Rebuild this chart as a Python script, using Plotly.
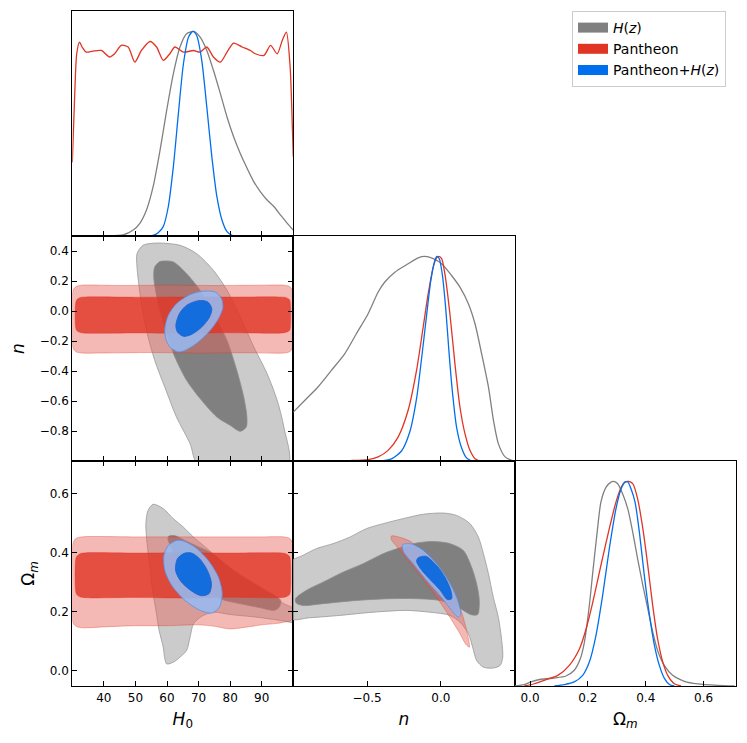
import plotly.graph_objects as go

# axis limits / ticks of the triangle plot
H0_RANGE = [30, 100]
N_RANGE = [-1.0, 0.5]
OM_RANGE = [-0.053, 0.712]
P_RANGE = [0, 1.1]

H0_TICKS = [40, 50, 60, 70, 80, 90]
N_TICKS_X = [-0.5, 0.0]
N_TICKS_Y = [0.4, 0.2, 0.0, -0.2, -0.4, -0.6, -0.8]
OM_TICKS = [0.0, 0.2, 0.4, 0.6]

LABELS = ['<i>H</i>(<i>z</i>)', 'Pantheon', 'Pantheon+<i>H</i>(<i>z</i>)']

# ---- 1D marginals (peak normalised to 1) ----
h0_hz_x = [41.8, 46.1, 49.3, 51.4, 53.5, 55.6, 57.8, 59.9, 62.0, 64.1, 66.2, 68.4, 70.5, 72.6, 74.7,
           76.9, 79.0, 81.1, 83.2, 85.4, 87.5, 89.6, 91.7, 93.9, 96.0, 98.1, 100.0]
h0_hz_p = [0.0, 0.005, 0.029, 0.062, 0.127, 0.241, 0.420, 0.615, 0.793, 0.924, 0.989, 1.0, 0.972, 0.907,
           0.810, 0.696, 0.582, 0.485, 0.403, 0.330, 0.265, 0.216, 0.176, 0.143, 0.102, 0.062, 0.029]
h0_pan_x = [30.0, 30.7, 31.4, 32.3, 33.1, 34.4, 36.5, 39.2, 41.8, 43.4, 45.5, 47.7, 49.8, 51.9, 54.6,
            56.7, 58.8, 60.9, 62.5, 65.2, 68.4, 70.5, 72.6, 74.7, 76.9, 79.0, 81.1, 83.8, 86.4, 88.0,
            90.7, 92.8, 94.9, 96.5, 97.8, 99.0, 99.7, 100.0]
h0_pan_p = [0.36, 0.663, 0.891, 0.948, 0.924, 0.899, 0.904, 0.907, 0.875, 0.891, 0.932, 0.924, 0.850,
            0.907, 0.951, 0.924, 0.859, 0.891, 0.924, 0.899, 0.907, 0.899, 0.924, 0.875, 0.850, 0.899,
            0.943, 0.924, 0.907, 0.891, 0.883, 0.932, 0.891, 0.956, 0.997, 0.826, 0.533, 0.387]
h0_both_x = [50.0, 55.6, 57.2, 58.8, 60.4, 62.0, 63.6, 65.2, 66.8, 68.2, 69.4, 71.0, 72.6, 74.2, 75.8,
             77.4, 79.0, 80.6, 86.0]
h0_both_p = [0.0, 0.003, 0.016, 0.046, 0.143, 0.338, 0.598, 0.842, 0.972, 1.0, 0.980, 0.859, 0.631,
             0.387, 0.192, 0.078, 0.021, 0.003, 0.0]

n_hz_x = [-1.0, -0.923, -0.833, -0.742, -0.652, -0.573, -0.493, -0.425, -0.380, -0.312, -0.222, -0.154,
          -0.109, -0.052, 0.005, 0.072, 0.129, 0.186, 0.231, 0.276, 0.322, 0.356, 0.389, 0.435, 0.480, 0.5]
n_hz_p = [0.239, 0.296, 0.362, 0.443, 0.524, 0.622, 0.720, 0.826, 0.875, 0.923, 0.964, 0.993, 1.0,
          0.989, 0.964, 0.907, 0.850, 0.769, 0.671, 0.524, 0.362, 0.199, 0.085, 0.020, 0.003, 0.0]
n_pan_x = [-0.607, -0.493, -0.425, -0.358, -0.290, -0.222, -0.165, -0.120, -0.086, -0.052, -0.029,
           -0.014, 0.005, 0.027, 0.061, 0.095, 0.129, 0.163, 0.197, 0.231, 0.265]
n_pan_p = [0.003, 0.007, 0.020, 0.052, 0.117, 0.248, 0.443, 0.655, 0.818, 0.948, 0.993, 1.0, 0.989,
           0.915, 0.720, 0.476, 0.264, 0.134, 0.052, 0.011, 0.0]
n_both_x = [-0.403, -0.335, -0.267, -0.211, -0.165, -0.131, -0.097, -0.068, -0.041, -0.027, -0.011,
            0.009, 0.032, 0.054, 0.077, 0.106, 0.140, 0.174, 0.208]
n_both_p = [0.0, 0.010, 0.049, 0.142, 0.305, 0.500, 0.712, 0.883, 0.980, 1.0, 0.989, 0.915, 0.752,
            0.541, 0.345, 0.166, 0.065, 0.015, 0.0]

om_hz_x = [-0.053, -0.020, 0.003, 0.038, 0.084, 0.124, 0.153, 0.174, 0.188, 0.205, 0.217, 0.232, 0.245,
           0.263, 0.280, 0.289, 0.303, 0.320, 0.338, 0.355, 0.372, 0.390, 0.407, 0.424, 0.441, 0.464,
           0.493, 0.534, 0.580, 0.649, 0.707]
om_hz_p = [0.0, 0.007, 0.020, 0.033, 0.039, 0.049, 0.077, 0.134, 0.215, 0.394, 0.557, 0.752, 0.899,
           0.972, 0.997, 1.0, 0.989, 0.940, 0.866, 0.752, 0.622, 0.492, 0.378, 0.264, 0.174, 0.101,
           0.052, 0.023, 0.010, 0.003, 0.0]
om_pan_x = [-0.020, 0.015, 0.049, 0.096, 0.136, 0.171, 0.194, 0.217, 0.245, 0.274, 0.297, 0.315, 0.328,
            0.340, 0.355, 0.372, 0.390, 0.407, 0.424, 0.441, 0.459, 0.476, 0.499, 0.522]
om_pan_p = [0.0, 0.011, 0.028, 0.052, 0.101, 0.182, 0.280, 0.410, 0.590, 0.769, 0.899, 0.972, 0.997,
            1.0, 0.989, 0.915, 0.769, 0.590, 0.394, 0.231, 0.117, 0.052, 0.011, 0.0]
om_both_x = [0.084, 0.119, 0.153, 0.182, 0.205, 0.228, 0.251, 0.274, 0.297, 0.315, 0.328, 0.338, 0.349,
             0.363, 0.378, 0.395, 0.413, 0.430, 0.447, 0.465, 0.482, 0.499]
om_both_p = [0.0, 0.007, 0.020, 0.052, 0.117, 0.248, 0.443, 0.671, 0.866, 0.964, 0.997, 0.997, 0.964,
             0.899, 0.752, 0.541, 0.345, 0.199, 0.101, 0.036, 0.007, 0.0]

# ---- 2D contours (68% / 95%), outlines ----
# (H0, n)
hz_h0n_95 = [(56.7, 0.453), (64.1, 0.438), (69.4, 0.382), (74.7, 0.271), (79.0, 0.138), (83.2, -0.04),
             (87.5, -0.24), (91.7, -0.418), (94.9, -0.596), (97.0, -0.773), (98.3, -1.03), (70.0, -1.03),
             (67.3, -0.884), (63.0, -0.707), (59.3, -0.507), (56.1, -0.329), (53.5, -0.129),
             (51.6, 0.093), (50.5, 0.293), (50.5, 0.382), (52.4, 0.438)]
hz_h0n_68 = [(58.8, 0.333), (62.0, 0.327), (66.2, 0.249), (70.5, 0.138), (74.7, -0.018), (79.0, -0.196),
             (82.1, -0.396), (84.3, -0.573), (85.3, -0.707), (85.1, -0.773), (83.2, -0.802),
             (80.0, -0.762), (75.8, -0.707), (70.5, -0.584), (66.2, -0.462), (62.5, -0.307),
             (59.9, -0.151), (57.2, 0.049), (55.8, 0.227), (56.1, 0.293), (57.5, 0.327)]
pan_h0n_95 = [(30.0, 0.10), (30.3, 0.14), (31.2, 0.163), (33, 0.172), (45, 0.170), (60, 0.172),
              (75, 0.170), (90, 0.172), (97, 0.172), (98.8, 0.163), (99.7, 0.14), (100, 0.10),
              (100, -0.21), (99.7, -0.25), (98.8, -0.272), (97, -0.28), (85, -0.278), (70, -0.28),
              (55, -0.277), (40, -0.28), (33, -0.28), (31.2, -0.272), (30.3, -0.25), (30, -0.21)]
pan_h0n_68 = [(31.0, 0.04), (31.4, 0.075), (32.5, 0.09), (34.5, 0.094), (50, 0.092), (65, 0.094),
              (80, 0.093), (95, 0.094), (97.6, 0.09), (98.8, 0.075), (99.1, 0.04), (99.1, -0.10),
              (98.8, -0.13), (97.6, -0.143), (95, -0.148), (80, -0.145), (65, -0.148), (50, -0.146),
              (34.5, -0.148), (32.5, -0.143), (31.4, -0.13), (31.0, -0.10)]
both_h0n_95 = [(59.3, -0.118), (60.4, -0.029), (63.0, 0.049), (66.8, 0.104), (71.0, 0.131),
               (75.2, 0.127), (77.3, 0.082), (77.7, 0.022), (76.3, -0.051), (73.7, -0.129),
               (69.9, -0.207), (66.2, -0.258), (63.6, -0.273), (60.9, -0.24), (59.6, -0.184)]
both_h0n_68 = [(62.8, -0.096), (63.9, -0.018), (66.2, 0.038), (69.9, 0.069), (72.8, 0.062), (74.2, 0.016),
               (73.4, -0.044), (71.0, -0.107), (67.8, -0.156), (65.2, -0.169), (63.3, -0.140)]

# (H0, Omega_m)
hz_h0om_95 = [(55.6, 0.565), (58.8, 0.550), (62.0, 0.516), (65.2, 0.487), (68.4, 0.453), (71.5, 0.425),
              (75.8, 0.385), (80.1, 0.346), (84.3, 0.312), (88.5, 0.283), (92.8, 0.255), (97.0, 0.227),
              (101.0, 0.204), (101.0, 0.164), (96.0, 0.170), (88.5, 0.181), (80.1, 0.190),
              (74.7, 0.198), (71.0, 0.184), (68.4, 0.159), (67.3, 0.113), (66.2, 0.068), (64.1, 0.045),
              (62.0, 0.028), (59.9, 0.022), (59.3, 0.040), (58.8, 0.079), (57.5, 0.136), (56.5, 0.204),
              (55.4, 0.272), (54.6, 0.351), (53.7, 0.431), (53.3, 0.499), (54.0, 0.544)]
hz_h0om_68 = [(60.5, 0.456), (62.5, 0.458), (66.0, 0.440), (70.0, 0.420), (73.7, 0.402), (81.1, 0.340),
              (89.6, 0.283), (96.0, 0.238), (95.4, 0.213), (93.8, 0.204), (89.6, 0.213), (83.2, 0.227),
              (77.4, 0.241), (72.0, 0.270), (67.0, 0.310), (63.5, 0.370), (61.3, 0.420), (60.3, 0.445)]
pan_h0om_95 = [(30.0, 0.41), (30.3, 0.435), (31.2, 0.449), (33, 0.454), (50, 0.454), (70, 0.454),
               (90, 0.454), (97, 0.454), (98.8, 0.449), (99.7, 0.435), (100, 0.41), (100, 0.19),
               (99.7, 0.175), (98.8, 0.167), (97.5, 0.165), (95, 0.160), (90, 0.155), (85, 0.147),
               (80, 0.141), (75, 0.150), (70, 0.155), (60, 0.152), (50, 0.152), (40, 0.148), (33, 0.145),
               (31.2, 0.150), (30.3, 0.160), (30.0, 0.18)]
pan_h0om_68 = [(31.0, 0.37), (31.4, 0.388), (32.5, 0.397), (34.5, 0.400), (50, 0.399), (65, 0.400),
               (80, 0.399), (95, 0.400), (97.6, 0.397), (98.8, 0.388), (99.1, 0.37), (99.1, 0.275),
               (98.8, 0.258), (97.6, 0.250), (95, 0.247), (80, 0.249), (65, 0.246), (50, 0.248),
               (34.5, 0.247), (32.5, 0.250), (31.4, 0.258), (31.0, 0.275)]
both_h0om_95 = [(63.1, 0.442), (60.4, 0.425), (59.0, 0.391), (59.3, 0.340), (61.5, 0.289), (65.7, 0.238),
                (70.5, 0.204), (74.2, 0.195), (76.6, 0.215), (77.5, 0.261), (76.3, 0.317), (73.1, 0.374),
                (68.9, 0.419), (65.2, 0.440)]
both_h0om_68 = [(65.7, 0.399), (63.3, 0.380), (62.7, 0.340), (64.3, 0.304), (67.5, 0.272), (70.8, 0.254),
                (73.3, 0.261), (74.1, 0.295), (72.8, 0.340), (70.3, 0.380), (67.8, 0.399)]

# (n, Omega_m)
hz_nom_95 = [(-1.03, 0.366), (-0.935, 0.391), (-0.844, 0.414), (-0.731, 0.431), (-0.618, 0.453),
             (-0.505, 0.482), (-0.391, 0.499), (-0.256, 0.516), (-0.120, 0.531), (0.016, 0.535),
             (0.106, 0.527), (0.197, 0.499), (0.254, 0.453), (0.288, 0.397), (0.322, 0.329),
             (0.355, 0.249), (0.389, 0.181), (0.412, 0.102), (0.419, 0.045), (0.401, 0.017),
             (0.355, 0.008), (0.288, 0.011), (0.242, 0.034), (0.215, 0.079), (0.186, 0.125),
             (0.129, 0.164), (0.061, 0.187), (-0.075, 0.198), (-0.233, 0.204), (-0.459, 0.198),
             (-0.686, 0.187), (-0.889, 0.179), (-1.03, 0.176)]
hz_nom_68 = [(-0.985, 0.244), (-0.912, 0.272), (-0.799, 0.300), (-0.663, 0.334), (-0.527, 0.363),
             (-0.391, 0.397), (-0.278, 0.417), (-0.165, 0.433), (-0.052, 0.438), (0.061, 0.431),
             (0.152, 0.408), (0.208, 0.351), (0.242, 0.295), (0.260, 0.238), (0.249, 0.190),
             (0.208, 0.189), (0.152, 0.204), (0.084, 0.224), (-0.007, 0.238), (-0.165, 0.244),
             (-0.346, 0.244), (-0.572, 0.238), (-0.799, 0.227), (-0.935, 0.221), (-0.980, 0.229)]
pan_nom_95 = [(-0.335, 0.457), (-0.267, 0.451), (-0.199, 0.436), (-0.120, 0.397), (-0.029, 0.340),
              (0.050, 0.289), (0.118, 0.227), (0.163, 0.159), (0.193, 0.079), (0.170, 0.088),
              (0.129, 0.125), (0.061, 0.181), (-0.029, 0.249), (-0.131, 0.317), (-0.233, 0.380),
              (-0.305, 0.425), (-0.335, 0.444)]
pan_nom_68 = [(-0.24, 0.42), (-0.19, 0.42), (-0.12, 0.40), (-0.03, 0.355), (0.05, 0.30), (0.10, 0.245),
              (0.125, 0.20), (0.11, 0.19), (0.07, 0.21), (0.0, 0.25), (-0.09, 0.31), (-0.18, 0.365),
              (-0.235, 0.40)]
both_nom_95 = [(-0.260, 0.427), (-0.199, 0.430), (-0.120, 0.408), (-0.029, 0.363), (0.050, 0.306),
               (0.106, 0.249), (0.134, 0.195), (0.118, 0.181), (0.073, 0.204), (0.005, 0.247),
               (-0.097, 0.306), (-0.188, 0.363), (-0.251, 0.402)]
both_nom_68 = [(-0.154, 0.383), (-0.102, 0.388), (-0.029, 0.357), (0.027, 0.317), (0.066, 0.274),
               (0.073, 0.244), (0.043, 0.241), (-0.007, 0.274), (-0.075, 0.310), (-0.138, 0.346),
               (-0.165, 0.371)]

# colours (getdist-like)
LINE_COL = ['#808080', '#E03424', '#006FED']
FILL_95 = ['#cbcbcb', 'rgba(232,100,90,0.45)', 'rgba(150,185,240,0.88)']
FILL_68 = ['#808080', 'rgba(224,52,36,0.8)', 'rgba(0,100,220,0.88)']
EDGE_95 = ['#999999', 'rgba(224,52,36,0.45)', '#5a8fe6']
EDGE_68 = ['#8a8a8a', 'rgba(224,52,36,0.5)', '#1f5fd0']
LEGEND_COL = ['#808080', '#E03424', '#006FED']

fig = go.Figure()


def add_contour(pts, xa, ya, fillc, edgec):
    xs = [p[0] for p in pts] + [pts[0][0]]
    ys = [p[1] for p in pts] + [pts[0][1]]
    fig.add_trace(go.Scatter(x=xs, y=ys, mode='lines', fill='toself', fillcolor=fillc,
                             line=dict(color=edgec, width=0.8, shape='spline', smoothing=0.8),
                             xaxis=xa, yaxis=ya, showlegend=False, hoverinfo='skip'))


def add_1d(x, p, xa, ya, col):
    fig.add_trace(go.Scatter(x=x, y=p, mode='lines', line=dict(color=col, width=1.3, shape='spline',
                                                                 smoothing=0.7),
                             xaxis=xa, yaxis=ya, showlegend=False, hoverinfo='skip'))


panels_2d = [
    ('x2', 'y2', [hz_h0n_95, pan_h0n_95, both_h0n_95], [hz_h0n_68, pan_h0n_68, both_h0n_68]),
    ('x4', 'y4', [hz_h0om_95, pan_h0om_95, both_h0om_95], [hz_h0om_68, pan_h0om_68, both_h0om_68]),
    ('x5', 'y5', [hz_nom_95, pan_nom_95, both_nom_95], [hz_nom_68, pan_nom_68, both_nom_68]),
]
for xa, ya, c95, c68 in panels_2d:
    for i in range(3):
        add_contour(c95[i], xa, ya, FILL_95[i], EDGE_95[i])
        add_contour(c68[i], xa, ya, FILL_68[i], EDGE_68[i])

add_1d(h0_hz_x, h0_hz_p, 'x', 'y', LINE_COL[0])
add_1d(h0_pan_x, h0_pan_p, 'x', 'y', LINE_COL[1])
add_1d(h0_both_x, h0_both_p, 'x', 'y', LINE_COL[2])
add_1d(n_hz_x, n_hz_p, 'x3', 'y3', LINE_COL[0])
add_1d(n_pan_x, n_pan_p, 'x3', 'y3', LINE_COL[1])
add_1d(n_both_x, n_both_p, 'x3', 'y3', LINE_COL[2])
add_1d(om_hz_x, om_hz_p, 'x6', 'y6', LINE_COL[0])
add_1d(om_pan_x, om_pan_p, 'x6', 'y6', LINE_COL[1])
add_1d(om_both_x, om_both_p, 'x6', 'y6', LINE_COL[2])

# legend-only entries (thick line -> filled patch in the legend)
for lab, col in zip(LABELS, LEGEND_COL):
    fig.add_trace(go.Scatter(x=[None], y=[None], mode='lines', line=dict(color=col, width=12),
                             name=lab, xaxis='x6', yaxis='y6'))

# page body has an 8px margin, so the figure is 8px smaller than the window
W, H, OFF = 739, 735, 8


def fx(px):
    return (px - OFF) / W


def fy(py):
    return 1 - (py - OFF) / H


C0, C1, C2 = [fx(72.3), fx(293.3)], [fx(293.3), fx(514.7)], [fx(514.7), fx(736)]
R0, R1, R2 = [fy(236), fy(11)], [fy(461), fy(236)], [fy(686), fy(461)]

TFONT = dict(family='DejaVu Sans', size=12, color='black')
TITLE_FONT = dict(family='DejaVu Sans', size=17, color='black')


def axis(domain, anchor, rng, tickvals=None, labels=True, mirror='allticks', title=None, standoff=9):
    d = dict(domain=domain, anchor=anchor, range=rng, showline=True, linecolor='black', linewidth=1.2,
             mirror=mirror, showgrid=False, zeroline=False, tickfont=TFONT, showticklabels=labels,
             ticks='inside' if tickvals else '', ticklen=5, tickwidth=1, tickcolor='black')
    if tickvals:
        d['tickvals'] = tickvals
        d['ticktext'] = [('%g' % v if abs(v) >= 1 else '%.1f' % v).replace('-', '\u2212')
                         for v in tickvals]
    if title:
        d['title'] = dict(text=title, font=TITLE_FONT, standoff=standoff)
    return d


H0_T = '<i>H</i><sub>0</sub>'
N_T = '<i>n</i>'
OM_T = '\u03a9<sub><i>m</i></sub>'

fig.update_layout(
    width=W, height=H,
    margin=dict(l=0, r=0, t=0, b=0),
    paper_bgcolor='white', plot_bgcolor='white',
    font=dict(family='DejaVu Sans', color='black'),
    showlegend=True,
    legend=dict(x=fx(572), y=fy(11), xanchor='left', yanchor='top', bgcolor='white',
                bordercolor='#cccccc', borderwidth=1, font=dict(size=14, family='DejaVu Sans'),
                itemwidth=30, tracegroupgap=2),
    xaxis=axis(C0, 'y', H0_RANGE, H0_TICKS, labels=False, mirror=True),
    yaxis=axis(R0, 'x', P_RANGE, None, labels=False, mirror=True),
    xaxis2=axis(C0, 'y2', H0_RANGE, H0_TICKS, labels=False),
    yaxis2=axis(R1, 'x2', N_RANGE, N_TICKS_Y, title=N_T, standoff=10),
    xaxis3=axis(C1, 'y3', N_RANGE, N_TICKS_X, labels=False, mirror=True),
    yaxis3=axis(R1, 'x3', P_RANGE, None, labels=False, mirror=True),
    xaxis4=axis(C0, 'y4', H0_RANGE, H0_TICKS, title=H0_T),
    yaxis4=axis(R2, 'x4', OM_RANGE, OM_TICKS, title=OM_T, standoff=10),
    xaxis5=axis(C1, 'y5', N_RANGE, N_TICKS_X, title=N_T),
    yaxis5=axis(R2, 'x5', OM_RANGE, OM_TICKS, labels=False),
    xaxis6=axis(C2, 'y6', OM_RANGE, OM_TICKS, title=OM_T, mirror=True),
    yaxis6=axis(R2, 'x6', P_RANGE, None, labels=False, mirror=True),
)

fig.write_html("out.html")
